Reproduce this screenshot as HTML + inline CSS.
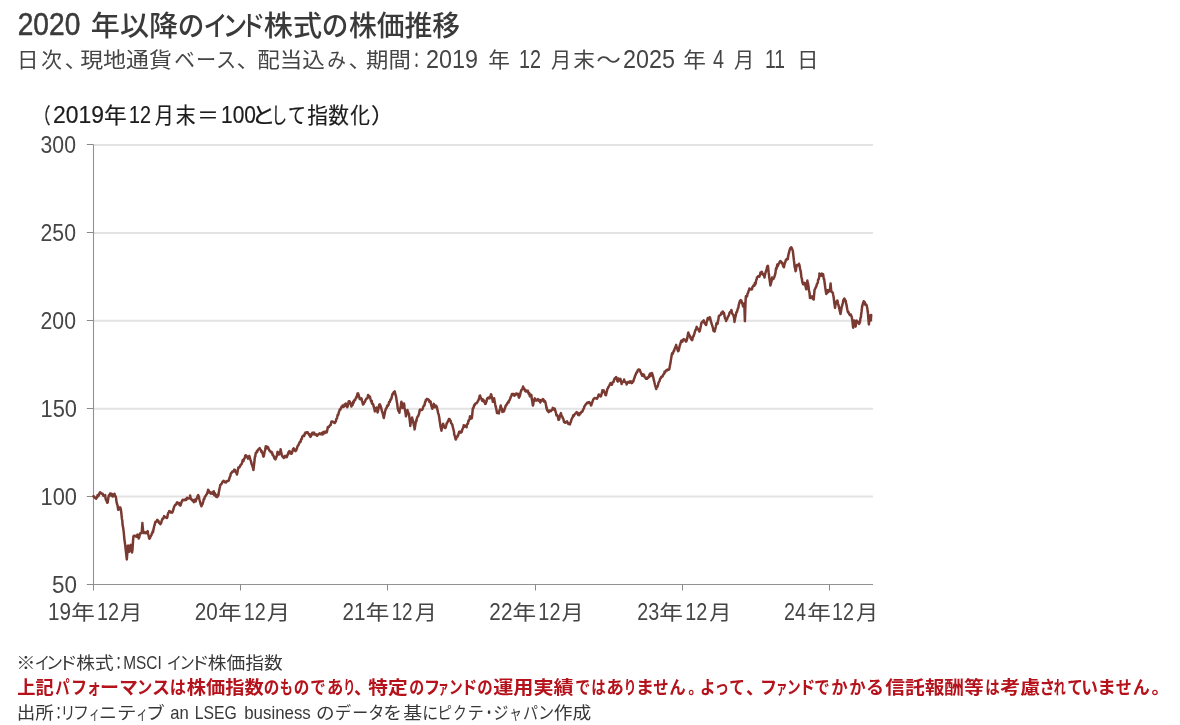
<!DOCTYPE html>
<html lang="ja"><head><meta charset="utf-8"><title>2020 年以降のインド株式の株価推移</title>
<style>
html,body{margin:0;padding:0;background:#fff;}
body{width:1180px;height:725px;position:relative;overflow:hidden;font-family:"Liberation Sans","Noto Sans CJK JP",sans-serif;}
svg{position:absolute;left:0;top:0;display:block;}
</style></head><body>
<svg width="1180" height="725" viewBox="0 0 1180 725">
<g fill="none">
<line x1="93.5" x2="873" y1="496.60" y2="496.60" stroke="#e3e3e3" stroke-width="2"/>
<line x1="93.5" x2="873" y1="408.70" y2="408.70" stroke="#e3e3e3" stroke-width="2"/>
<line x1="93.5" x2="873" y1="320.80" y2="320.80" stroke="#e3e3e3" stroke-width="2"/>
<line x1="93.5" x2="873" y1="232.90" y2="232.90" stroke="#e3e3e3" stroke-width="2"/>
<line x1="93.5" x2="873" y1="145.00" y2="145.00" stroke="#e3e3e3" stroke-width="2"/>
<line x1="93.5" x2="93.5" y1="144.5" y2="584.5" stroke="#929292" stroke-width="1.1"/>
<line x1="93.5" x2="873" y1="584.5" y2="584.5" stroke="#929292" stroke-width="1.1"/>
<line x1="86.8" x2="93.5" y1="584.50" y2="584.50" stroke="#8a8a8a" stroke-width="1"/>
<line x1="86.8" x2="93.5" y1="496.50" y2="496.50" stroke="#8a8a8a" stroke-width="1"/>
<line x1="86.8" x2="93.5" y1="408.50" y2="408.50" stroke="#8a8a8a" stroke-width="1"/>
<line x1="86.8" x2="93.5" y1="320.50" y2="320.50" stroke="#8a8a8a" stroke-width="1"/>
<line x1="86.8" x2="93.5" y1="232.50" y2="232.50" stroke="#8a8a8a" stroke-width="1"/>
<line x1="86.8" x2="93.5" y1="144.50" y2="144.50" stroke="#8a8a8a" stroke-width="1"/>
<line x1="93.50" x2="93.50" y1="584.5" y2="590.5" stroke="#8a8a8a" stroke-width="1"/>
<line x1="240.50" x2="240.50" y1="584.5" y2="590.5" stroke="#8a8a8a" stroke-width="1"/>
<line x1="387.50" x2="387.50" y1="584.5" y2="590.5" stroke="#8a8a8a" stroke-width="1"/>
<line x1="535.50" x2="535.50" y1="584.5" y2="590.5" stroke="#8a8a8a" stroke-width="1"/>
<line x1="682.50" x2="682.50" y1="584.5" y2="590.5" stroke="#8a8a8a" stroke-width="1"/>
<line x1="829.50" x2="829.50" y1="584.5" y2="590.5" stroke="#8a8a8a" stroke-width="1"/>
<path d="M93.4,496.3 L93.4,496.3 L94.0,496.5 L94.6,497.4 L95.3,498.2 L95.9,497.8 L96.2,498.7 L96.5,498.2 L97.1,497.2 L97.7,494.9 L98.4,496.0 L99.0,494.7 L99.6,492.8 L100.2,492.2 L100.3,492.2 L100.8,493.2 L101.5,493.2 L102.1,493.9 L102.7,493.7 L103.1,495.2 L103.3,495.7 L103.9,495.7 L104.6,496.2 L105.2,495.1 L105.2,496.3 L105.8,499.5 L106.4,500.4 L107.0,502.0 L107.2,502.8 L107.7,502.3 L108.3,498.0 L108.6,496.6 L108.9,495.2 L109.5,495.5 L110.1,493.5 L110.8,495.5 L111.4,493.8 L111.4,494.1 L112.0,494.3 L112.6,496.5 L112.8,495.9 L113.2,494.5 L113.9,495.9 L114.5,493.8 L114.8,495.2 L115.1,495.5 L115.7,496.6 L116.2,498.7 L116.3,500.5 L117.0,504.0 L117.6,505.7 L118.2,509.8 L118.3,509.7 L118.8,509.0 L119.4,508.9 L120.1,507.3 L120.3,507.6 L120.7,508.8 L121.3,512.8 L121.9,518.5 L122.4,521.4 L122.5,524.3 L123.2,528.0 L123.8,532.6 L124.4,539.6 L125.0,543.6 L125.2,544.9 L125.6,549.0 L126.3,554.7 L126.8,559.4 L126.9,558.3 L127.5,550.4 L127.9,545.6 L128.1,545.5 L128.7,549.7 L129.3,551.8 L129.4,551.4 L130.0,549.3 L130.6,545.1 L130.7,544.9 L131.2,546.3 L131.8,550.9 L132.1,552.4 L132.5,549.3 L133.1,540.2 L133.4,536.6 L133.7,535.9 L134.3,535.7 L134.9,535.8 L135.6,536.4 L136.2,535.7 L136.2,536.6 L136.8,536.8 L137.4,534.6 L137.6,534.5 L138.0,536.0 L138.6,537.7 L138.7,538.6 L139.3,537.0 L139.9,534.1 L140.3,533.2 L140.5,533.3 L141.1,533.3 L141.7,532.4 L141.8,531.6 L142.4,523.1 L142.4,524.2 L143.0,529.6 L143.4,532.4 L143.6,533.1 L144.2,533.0 L144.9,532.2 L145.5,532.9 L145.9,533.2 L146.1,532.5 L146.7,532.0 L147.3,532.5 L147.7,531.1 L148.0,533.5 L148.6,535.8 L149.2,538.6 L149.3,538.7 L149.8,538.3 L150.4,536.8 L151.1,535.7 L151.4,535.2 L151.7,533.9 L152.3,532.5 L152.8,531.1 L152.9,532.4 L153.5,529.3 L154.2,526.3 L154.8,524.1 L155.4,521.8 L155.5,522.1 L156.0,522.0 L156.6,521.6 L157.3,519.8 L157.6,520.7 L157.9,521.3 L158.5,521.0 L159.1,523.0 L159.7,522.6 L160.4,524.3 L161.0,523.1 L161.0,523.5 L161.6,521.2 L162.2,519.5 L162.4,518.7 L162.8,519.1 L163.5,518.1 L164.1,516.1 L164.5,516.6 L164.7,516.9 L165.3,517.2 L165.9,517.2 L166.6,517.5 L166.6,518.0 L167.2,517.8 L167.8,514.6 L168.4,512.7 L169.0,512.2 L169.3,511.1 L169.7,511.4 L170.3,511.5 L170.9,512.5 L171.5,512.6 L172.1,512.5 L172.1,512.7 L172.8,511.5 L173.4,509.4 L174.0,507.2 L174.6,505.8 L174.8,505.6 L175.2,504.8 L175.9,504.8 L176.5,503.4 L177.1,502.3 L177.6,503.2 L177.7,503.4 L178.3,502.9 L179.0,502.9 L179.6,505.2 L180.2,505.0 L180.3,505.6 L180.8,504.8 L181.4,502.5 L182.1,500.7 L182.4,500.7 L182.7,499.7 L183.3,500.2 L183.9,500.2 L184.5,499.7 L185.2,500.0 L185.8,499.0 L185.9,500.1 L186.4,499.7 L187.0,497.8 L187.6,498.5 L188.3,498.6 L188.9,498.4 L189.5,498.3 L190.0,496.6 L190.1,495.6 L190.7,498.3 L191.4,499.5 L192.0,500.2 L192.6,499.7 L192.8,500.7 L193.2,501.1 L193.8,502.2 L194.5,499.8 L195.1,501.3 L195.5,501.0 L195.7,501.4 L196.3,498.9 L196.9,498.6 L197.6,496.2 L198.2,495.1 L198.3,495.5 L198.8,496.6 L199.4,499.5 L200.0,501.5 L200.7,504.4 L201.3,505.2 L201.4,506.3 L201.9,504.9 L202.5,504.0 L203.1,502.1 L203.8,499.0 L204.4,498.8 L204.5,498.0 L205.0,496.6 L205.6,496.0 L206.2,494.7 L206.9,494.1 L207.5,492.0 L207.9,491.1 L208.1,489.8 L208.7,490.6 L209.3,492.5 L210.0,492.1 L210.6,493.6 L211.2,493.3 L211.4,493.2 L211.8,492.5 L212.4,493.6 L213.1,492.0 L213.4,492.5 L213.7,491.3 L214.3,495.2 L214.9,493.1 L215.5,495.8 L216.2,496.8 L216.8,497.1 L216.9,497.1 L217.4,495.1 L218.0,496.1 L218.6,494.5 L218.6,493.2 L219.3,489.8 L219.9,487.0 L220.3,484.9 L220.5,485.2 L221.1,484.1 L221.7,483.7 L222.4,482.0 L223.0,481.4 L223.1,481.4 L223.6,480.7 L224.2,481.4 L224.8,482.3 L225.5,481.8 L225.9,482.1 L226.1,482.4 L226.7,481.3 L227.3,480.9 L227.9,481.1 L228.6,480.6 L228.6,480.7 L229.2,479.2 L229.8,476.9 L230.4,476.0 L230.7,473.8 L231.0,473.3 L231.7,472.7 L232.3,471.5 L232.8,471.8 L232.9,471.7 L233.5,471.6 L234.1,469.8 L234.8,469.7 L234.8,469.7 L235.4,471.6 L236.0,472.3 L236.6,473.5 L236.9,474.5 L237.2,473.6 L237.9,469.8 L238.3,467.6 L238.5,467.7 L239.1,467.7 L239.7,467.0 L240.3,465.3 L241.0,464.5 L241.0,464.9 L241.6,464.0 L242.2,462.4 L242.8,459.9 L243.4,461.1 L243.8,459.4 L244.1,458.9 L244.7,458.2 L245.3,455.5 L245.9,455.2 L245.9,456.2 L246.5,455.9 L247.2,457.3 L247.8,457.4 L247.9,458.7 L248.4,457.6 L249.0,456.3 L249.3,455.9 L249.6,456.9 L250.3,459.4 L250.9,461.1 L251.4,462.8 L251.5,463.9 L252.1,465.0 L252.7,466.9 L253.4,469.8 L253.4,470.0 L254.0,465.2 L254.6,460.0 L254.8,457.3 L255.2,456.7 L255.8,452.9 L256.5,452.7 L256.9,451.1 L257.1,452.0 L257.7,450.3 L258.3,449.3 L258.9,449.3 L259.6,448.1 L259.7,448.3 L260.2,449.5 L260.8,449.8 L261.4,451.8 L261.7,451.1 L262.0,452.5 L262.7,453.5 L263.3,456.4 L263.5,456.6 L263.9,455.8 L264.5,452.3 L265.1,450.0 L265.8,446.2 L265.9,447.4 L266.4,448.4 L267.0,447.6 L267.6,446.8 L268.2,447.5 L268.6,449.0 L268.9,449.2 L269.5,450.7 L270.1,450.9 L270.7,451.8 L270.7,452.2 L271.3,451.8 L272.0,452.4 L272.6,454.9 L272.8,454.5 L273.2,455.6 L273.8,456.3 L274.4,458.4 L275.1,457.9 L275.5,459.4 L275.7,458.4 L276.3,457.3 L276.9,455.6 L277.5,452.0 L277.6,451.8 L278.2,454.1 L278.8,453.6 L279.0,454.5 L279.4,453.7 L280.0,451.8 L280.6,450.4 L280.6,449.3 L281.3,452.9 L281.9,455.5 L282.4,456.6 L282.5,456.5 L283.1,456.7 L283.7,458.0 L284.4,456.2 L285.0,456.1 L285.2,457.3 L285.6,456.5 L286.2,455.7 L286.8,457.2 L287.2,455.9 L287.5,455.5 L288.1,453.2 L288.7,452.0 L289.3,451.1 L289.3,453.3 L289.9,451.5 L290.6,452.1 L291.2,453.7 L291.4,453.8 L291.8,453.3 L292.4,451.5 L293.0,449.2 L293.4,449.0 L293.7,448.4 L294.3,450.3 L294.9,450.5 L295.5,451.1 L295.5,449.8 L296.1,450.5 L296.8,448.8 L297.4,446.6 L297.6,446.3 L298.0,445.5 L298.6,444.9 L299.2,443.2 L299.9,441.8 L300.3,442.1 L300.5,441.9 L301.1,439.2 L301.7,439.2 L302.3,436.5 L303.0,436.1 L303.1,435.9 L303.6,435.3 L304.2,436.1 L304.8,433.4 L305.2,433.8 L305.4,432.6 L306.1,432.9 L306.7,432.2 L307.3,432.3 L307.9,432.5 L307.9,432.8 L308.5,433.8 L309.2,435.2 L309.8,434.2 L310.0,435.0 L310.4,436.9 L311.0,436.2 L311.6,434.4 L312.3,432.7 L312.9,434.2 L313.4,434.1 L313.5,434.2 L314.1,432.6 L314.7,434.6 L315.4,434.6 L316.0,434.3 L316.6,435.6 L316.9,435.2 L317.2,435.8 L317.8,434.4 L318.5,434.6 L319.1,433.7 L319.7,433.3 L320.3,433.6 L320.3,433.7 L320.9,434.3 L321.6,433.7 L322.2,432.7 L322.4,434.5 L322.8,434.4 L323.4,432.0 L324.0,432.5 L324.5,431.8 L324.7,433.2 L325.3,432.0 L325.9,431.4 L326.5,431.4 L326.6,432.5 L327.1,431.1 L327.8,427.6 L327.9,427.0 L328.4,427.0 L329.0,426.9 L329.6,425.7 L330.2,425.0 L330.7,424.9 L330.9,423.9 L331.5,421.4 L332.1,421.6 L332.7,421.7 L332.8,421.6 L333.3,421.8 L334.0,422.7 L334.6,422.8 L334.8,423.0 L335.2,422.3 L335.8,421.4 L336.4,418.8 L336.9,418.5 L337.1,417.8 L337.7,414.8 L338.3,414.7 L338.9,412.0 L339.5,410.3 L339.7,409.4 L340.2,409.9 L340.8,408.7 L341.4,407.0 L341.7,406.6 L342.0,407.2 L342.6,405.5 L343.3,406.9 L343.8,406.6 L343.9,406.6 L344.5,404.5 L345.1,405.8 L345.7,403.5 L345.9,403.8 L346.4,405.6 L347.0,406.4 L347.2,407.3 L347.6,406.5 L348.2,404.3 L348.6,401.8 L348.8,401.3 L349.5,401.2 L350.1,402.7 L350.7,403.2 L350.7,403.8 L351.3,405.9 L351.4,406.6 L351.9,405.2 L352.6,405.0 L353.2,401.5 L353.4,403.2 L353.8,401.9 L354.4,400.1 L354.8,400.4 L355.0,400.2 L355.7,398.4 L356.3,397.1 L356.5,397.6 L356.9,396.2 L357.5,393.5 L358.0,393.2 L358.1,393.7 L358.8,395.3 L359.4,397.6 L359.7,399.0 L360.0,398.3 L360.6,399.3 L361.2,398.3 L361.4,398.3 L361.9,400.4 L362.5,402.6 L363.1,404.5 L363.1,403.9 L363.7,403.9 L364.3,402.6 L365.0,401.5 L365.6,399.9 L365.9,399.7 L366.2,398.8 L366.8,398.6 L367.4,398.4 L368.1,395.0 L368.3,395.2 L368.7,396.0 L369.3,396.0 L369.9,397.5 L370.0,397.0 L370.5,399.1 L371.2,401.6 L371.8,400.7 L372.1,403.8 L372.4,403.7 L373.0,404.0 L373.4,405.2 L373.6,406.2 L374.3,408.5 L374.8,411.4 L374.9,410.7 L375.5,410.2 L376.1,409.6 L376.2,408.0 L376.7,407.6 L377.4,411.5 L377.6,412.5 L378.0,411.0 L378.6,408.1 L379.2,405.0 L379.4,404.5 L379.8,404.3 L380.5,405.7 L381.1,408.1 L381.3,408.0 L381.7,410.4 L382.3,412.2 L382.9,414.0 L383.6,417.2 L383.8,418.1 L384.2,415.9 L384.8,413.2 L385.2,410.7 L385.4,410.3 L386.0,408.5 L386.7,407.9 L387.3,405.6 L387.9,405.2 L387.9,405.8 L388.5,404.9 L389.1,401.9 L389.8,401.9 L390.4,399.6 L390.7,399.7 L391.0,399.6 L391.6,397.7 L392.2,395.0 L392.8,393.5 L392.9,394.2 L393.5,392.6 L394.1,391.9 L394.7,391.4 L394.8,391.8 L395.3,393.9 L396.0,396.4 L396.2,397.6 L396.6,400.2 L397.2,403.7 L397.8,408.8 L397.9,408.7 L398.4,410.9 L399.1,411.5 L399.4,412.8 L399.7,410.2 L400.3,408.4 L400.9,405.3 L401.4,401.8 L401.5,402.3 L402.2,404.2 L402.8,408.1 L402.8,408.0 L403.4,407.6 L404.0,403.5 L404.2,404.5 L404.6,407.9 L405.3,411.6 L405.9,415.5 L405.9,416.3 L406.5,414.3 L407.1,410.6 L407.5,410.1 L407.7,410.9 L408.4,413.2 L408.9,413.5 L409.0,414.3 L409.6,419.0 L410.2,423.9 L410.3,425.9 L410.8,422.4 L411.5,419.2 L412.1,418.9 L412.1,417.6 L412.7,420.2 L413.3,422.6 L413.9,425.3 L414.6,428.4 L414.6,429.4 L415.2,425.9 L415.8,421.7 L416.2,420.4 L416.4,421.2 L417.0,417.9 L417.7,416.5 L418.3,415.9 L418.3,415.6 L418.9,414.3 L419.5,411.8 L419.7,410.1 L420.1,409.6 L420.8,410.0 L421.4,409.8 L422.0,409.9 L422.4,409.4 L422.6,409.2 L423.2,407.0 L423.9,405.5 L424.5,405.4 L424.5,405.2 L425.1,402.0 L425.7,401.4 L425.9,399.7 L426.3,399.7 L427.0,398.9 L427.6,399.5 L428.2,399.3 L428.6,399.7 L428.8,400.0 L429.4,401.8 L430.1,401.1 L430.7,401.8 L430.7,403.2 L431.3,405.5 L431.9,407.3 L432.3,408.7 L432.5,408.0 L433.2,406.0 L433.7,403.8 L433.8,403.9 L434.4,406.6 L434.8,407.3 L435.0,406.3 L435.6,406.1 L435.9,405.6 L436.3,405.9 L436.9,407.3 L437.5,410.3 L437.6,410.1 L438.1,413.3 L438.7,414.6 L439.4,418.5 L439.7,421.1 L440.0,422.9 L440.6,427.0 L441.2,429.2 L441.4,430.7 L441.8,428.8 L442.5,425.3 L443.1,425.8 L443.1,423.8 L443.7,425.4 L444.3,426.9 L444.9,428.0 L445.2,428.0 L445.6,427.6 L446.2,425.5 L446.6,423.8 L446.8,423.1 L447.4,422.6 L448.0,420.9 L448.7,420.5 L448.9,419.0 L449.3,418.9 L449.9,419.8 L450.5,421.4 L450.7,421.1 L451.1,423.2 L451.8,423.9 L452.4,424.8 L452.4,425.4 L453.0,427.8 L453.6,430.0 L454.1,432.4 L454.2,434.4 L454.9,436.2 L455.5,439.0 L455.8,439.4 L456.1,439.0 L456.7,436.9 L457.3,436.9 L457.6,435.4 L458.0,435.8 L458.6,433.6 L459.2,431.7 L459.2,431.7 L459.8,432.6 L460.4,431.6 L461.1,432.6 L461.7,431.6 L461.7,432.1 L462.3,429.4 L462.9,428.5 L463.5,426.3 L463.8,425.2 L464.2,426.9 L464.8,425.7 L465.4,426.4 L466.0,426.0 L466.6,427.3 L466.6,425.8 L467.3,423.9 L467.9,423.7 L468.5,420.5 L468.6,421.1 L469.1,420.2 L469.7,418.3 L470.0,416.3 L470.4,416.5 L471.0,418.6 L471.6,418.2 L471.8,418.3 L472.2,415.1 L472.8,408.7 L472.8,408.4 L473.5,408.0 L474.1,405.3 L474.7,405.2 L474.8,404.5 L475.3,403.7 L475.9,403.3 L476.6,403.3 L477.2,402.3 L477.6,401.8 L477.8,401.2 L478.4,400.3 L479.0,398.8 L479.7,395.7 L480.1,395.6 L480.3,396.5 L480.9,398.1 L481.5,398.6 L482.0,400.4 L482.1,400.7 L482.8,399.4 L483.4,401.5 L483.8,400.4 L484.0,400.6 L484.6,401.9 L485.2,404.0 L485.6,403.8 L485.9,402.9 L486.5,401.6 L487.1,398.5 L487.2,399.0 L487.7,398.4 L488.3,397.6 L489.0,398.3 L489.3,398.3 L489.6,398.4 L490.2,396.3 L490.8,395.3 L491.0,394.2 L491.4,395.3 L492.1,398.0 L492.7,400.9 L492.8,401.8 L493.3,400.9 L493.9,399.1 L494.1,398.3 L494.5,400.7 L495.2,404.5 L495.5,405.9 L495.8,406.9 L496.4,409.5 L497.0,413.0 L497.2,412.8 L497.6,412.2 L498.3,412.5 L498.9,413.4 L499.0,412.1 L499.5,410.4 L500.1,408.6 L500.7,405.4 L500.8,405.6 L501.4,409.3 L502.0,408.7 L502.4,412.1 L502.6,411.0 L503.2,410.3 L503.8,411.5 L504.5,409.7 L504.5,409.4 L505.1,407.8 L505.7,405.6 L506.3,405.4 L506.6,404.5 L506.9,404.2 L507.6,403.0 L508.2,401.8 L508.6,402.5 L508.8,401.1 L509.4,400.5 L510.0,399.0 L510.7,397.2 L510.7,397.0 L511.3,396.1 L511.9,394.1 L512.5,394.6 L512.8,394.2 L513.1,393.7 L513.8,395.0 L514.4,395.8 L514.6,395.6 L515.0,394.7 L515.6,393.7 L516.2,394.5 L516.5,393.5 L516.9,394.4 L517.5,394.6 L518.1,393.9 L518.7,397.1 L519.0,397.6 L519.3,397.0 L520.0,395.5 L520.6,392.2 L521.0,391.4 L521.2,390.5 L521.8,389.5 L522.4,389.2 L523.1,386.5 L523.1,387.3 L523.7,388.2 L524.3,388.6 L524.9,390.5 L525.5,390.1 L525.6,391.4 L526.2,391.5 L526.8,390.7 L527.4,390.7 L527.9,390.7 L528.0,391.4 L528.6,393.6 L529.3,393.1 L529.7,395.6 L529.9,396.3 L530.5,395.7 L531.1,394.8 L531.4,394.9 L531.7,398.5 L532.4,402.1 L532.8,405.2 L533.0,405.5 L533.6,402.0 L534.2,399.7 L534.8,398.3 L534.8,399.3 L535.5,400.5 L536.1,399.9 L536.7,400.6 L537.2,400.4 L537.3,400.0 L537.9,399.1 L538.6,399.7 L539.0,399.7 L539.2,401.2 L539.8,400.0 L540.3,402.5 L540.4,402.0 L541.0,400.1 L541.7,400.8 L542.3,400.5 L542.4,399.7 L542.9,399.0 L543.5,400.0 L544.1,401.7 L544.8,401.0 L544.9,401.1 L545.4,402.3 L546.0,405.0 L546.6,408.7 L546.6,407.2 L547.2,410.4 L547.9,410.3 L548.2,411.4 L548.5,412.1 L549.1,411.8 L549.7,410.5 L550.3,410.4 L550.7,410.7 L551.0,411.1 L551.6,410.2 L552.2,409.8 L552.8,407.9 L553.4,408.7 L553.4,409.4 L554.1,408.9 L554.7,408.6 L555.3,410.7 L555.5,411.4 L555.9,412.7 L556.5,415.4 L557.2,415.0 L557.3,415.6 L557.8,415.8 L558.4,419.8 L559.0,419.7 L559.0,419.8 L559.6,417.5 L560.3,415.0 L560.9,413.1 L561.0,413.5 L561.5,415.9 L562.1,416.3 L562.7,417.7 L562.8,418.3 L563.4,419.1 L564.0,422.0 L564.6,421.6 L564.8,422.5 L565.2,422.8 L565.8,422.4 L566.5,422.2 L567.1,421.2 L567.2,421.8 L567.7,422.8 L568.3,424.0 L568.9,423.4 L569.6,423.3 L570.0,424.4 L570.2,422.9 L570.8,422.1 L571.4,419.8 L571.9,418.5 L572.0,418.2 L572.7,417.3 L573.3,415.2 L573.9,415.9 L574.1,415.0 L574.5,414.7 L575.1,413.7 L575.8,413.2 L576.4,413.0 L576.6,412.1 L577.0,412.6 L577.6,412.7 L578.2,414.9 L578.9,414.5 L579.2,415.2 L579.5,414.3 L580.1,413.0 L580.7,413.4 L581.3,411.9 L582.0,411.6 L582.1,411.8 L582.6,411.0 L583.2,409.3 L583.8,408.6 L584.4,406.7 L584.5,406.3 L585.1,405.3 L585.7,404.5 L586.3,403.6 L586.9,403.6 L587.2,402.8 L587.5,402.7 L588.2,402.2 L588.8,402.9 L589.3,402.1 L589.4,402.4 L590.0,403.2 L590.6,403.7 L591.0,405.6 L591.3,405.2 L591.9,403.4 L592.5,401.6 L592.8,400.7 L593.1,399.9 L593.7,398.8 L594.4,398.4 L594.8,398.0 L595.0,398.2 L595.6,398.2 L596.2,398.4 L596.8,398.3 L596.9,398.7 L597.5,397.8 L598.1,396.5 L598.7,394.5 L599.0,394.5 L599.3,395.4 L599.9,395.9 L600.6,396.5 L601.0,396.3 L601.2,395.5 L601.8,393.2 L602.4,391.1 L602.4,390.2 L603.0,392.1 L603.7,390.3 L604.3,392.1 L604.5,392.5 L604.9,393.0 L605.5,395.1 L605.9,395.2 L606.1,394.4 L606.8,391.5 L607.4,389.0 L607.9,388.3 L608.0,387.6 L608.6,386.9 L609.2,385.7 L609.9,384.2 L610.3,383.5 L610.5,383.1 L611.1,383.7 L611.7,384.8 L612.1,384.2 L612.3,382.8 L613.0,382.2 L613.6,381.9 L614.1,379.4 L614.2,379.7 L614.8,378.2 L615.4,378.3 L615.9,377.3 L616.1,377.0 L616.7,378.7 L617.3,380.9 L617.6,380.3 L617.9,381.6 L618.5,378.6 L619.2,380.1 L619.8,380.7 L620.3,379.0 L620.4,378.9 L621.0,381.3 L621.6,384.1 L621.7,383.1 L622.3,382.1 L622.9,382.1 L623.5,381.0 L623.8,380.7 L624.1,379.5 L624.7,381.7 L625.4,381.7 L626.0,383.0 L626.6,382.8 L626.6,384.4 L627.2,383.1 L627.8,382.0 L628.5,382.4 L629.1,381.9 L629.3,381.7 L629.7,382.7 L630.3,381.3 L630.9,381.9 L631.4,383.1 L631.6,381.4 L632.2,382.9 L632.8,381.9 L633.4,381.4 L633.4,380.9 L634.0,379.0 L634.7,377.3 L635.3,375.2 L635.5,375.2 L635.9,374.0 L636.5,372.5 L637.1,372.5 L637.6,370.4 L637.8,370.6 L638.4,369.5 L639.0,369.5 L639.6,370.6 L639.7,369.7 L640.2,371.3 L640.9,372.6 L641.5,374.3 L641.7,374.3 L642.1,375.8 L642.7,374.2 L643.3,375.0 L643.8,375.9 L644.0,374.8 L644.6,377.3 L645.2,377.5 L645.8,378.1 L645.9,378.7 L646.4,377.9 L647.1,378.8 L647.7,378.0 L647.9,378.0 L648.3,376.9 L648.9,377.2 L649.5,374.5 L650.0,374.5 L650.2,373.5 L650.8,376.0 L651.4,373.5 L652.0,373.0 L652.1,373.4 L652.6,374.8 L653.3,377.5 L653.9,380.5 L654.1,380.7 L654.5,382.8 L655.1,385.1 L655.7,387.0 L656.2,389.0 L656.4,387.5 L657.0,387.2 L657.6,386.5 L658.2,384.5 L658.3,383.5 L658.8,382.1 L659.5,381.3 L660.1,378.9 L660.3,378.7 L660.7,378.3 L661.3,376.8 L661.9,376.8 L662.4,376.6 L662.6,376.3 L663.2,374.7 L663.8,374.0 L664.4,373.4 L664.5,371.8 L665.0,372.5 L665.7,371.0 L666.3,370.3 L666.9,370.1 L667.2,370.4 L667.5,369.5 L668.1,369.8 L668.8,369.7 L669.3,369.0 L669.4,368.7 L670.0,365.3 L670.6,362.0 L670.7,361.4 L671.2,358.1 L671.9,354.0 L672.1,353.2 L672.5,354.1 L673.1,352.9 L673.7,350.8 L674.1,351.1 L674.3,349.7 L675.0,348.1 L675.6,346.8 L676.2,344.9 L676.2,345.8 L676.8,347.5 L677.4,349.4 L678.1,351.2 L678.3,351.1 L678.7,350.4 L679.3,347.7 L679.7,345.6 L679.9,345.4 L680.5,343.5 L681.2,340.7 L681.7,340.7 L681.8,340.6 L682.4,341.7 L683.0,339.7 L683.6,339.3 L684.3,340.3 L684.5,339.4 L684.9,339.7 L685.5,339.7 L686.1,341.6 L686.6,340.7 L686.7,340.5 L687.4,337.6 L688.0,333.6 L688.3,332.5 L688.6,333.5 L689.2,334.7 L689.8,336.3 L690.0,336.1 L690.5,337.9 L691.1,339.1 L691.7,339.5 L692.1,340.2 L692.3,340.0 L692.9,336.8 L693.6,336.2 L693.8,335.0 L694.2,334.5 L694.8,332.0 L695.4,330.0 L695.5,330.4 L696.0,329.2 L696.7,326.9 L696.9,327.3 L697.3,328.2 L697.9,329.2 L698.5,329.2 L699.1,331.0 L699.4,331.4 L699.8,330.6 L700.4,328.0 L701.0,325.3 L701.3,323.2 L701.6,322.7 L702.2,321.9 L702.9,321.2 L703.5,321.2 L703.8,320.4 L704.1,322.7 L704.7,323.0 L705.3,324.1 L706.0,325.0 L706.3,324.5 L706.6,322.1 L707.2,320.4 L707.7,318.3 L707.8,317.9 L708.4,319.0 L709.1,319.2 L709.7,317.2 L710.0,317.6 L710.3,318.8 L710.9,321.5 L711.5,323.1 L711.8,324.5 L712.2,325.3 L712.8,327.4 L713.4,330.1 L713.4,330.8 L714.0,329.7 L714.6,331.5 L714.8,330.7 L715.3,328.7 L715.9,326.5 L716.5,323.2 L716.5,324.4 L717.1,323.0 L717.6,323.8 L717.7,322.3 L718.4,319.4 L718.7,317.0 L719.0,315.9 L719.6,315.5 L720.2,315.2 L720.6,314.9 L720.8,314.6 L721.5,312.6 L722.1,312.3 L722.7,312.0 L722.8,311.4 L723.3,313.7 L723.9,312.7 L724.5,315.6 L724.6,316.8 L725.2,318.6 L725.8,319.3 L726.1,321.1 L726.4,319.3 L727.0,319.3 L727.7,317.2 L727.9,317.0 L728.3,316.2 L728.9,315.3 L729.5,312.9 L730.0,312.1 L730.1,312.0 L730.8,311.4 L731.4,310.8 L731.4,310.1 L732.0,312.9 L732.6,314.3 L733.2,314.7 L733.4,314.9 L733.9,317.3 L734.4,320.4 L734.5,321.9 L735.1,318.2 L735.7,315.7 L736.2,313.5 L736.3,312.3 L737.0,312.1 L737.6,309.3 L738.2,307.9 L738.3,308.0 L738.8,304.8 L739.4,302.7 L739.9,301.1 L740.1,301.1 L740.7,300.0 L741.3,301.1 L741.3,300.4 L741.9,302.9 L742.5,303.9 L743.1,306.6 L743.2,305.5 L743.8,303.9 L744.2,303.2 L744.4,307.3 L744.9,321.1 L745.0,317.7 L745.4,305.2 L745.6,300.2 L745.9,296.3 L746.3,296.7 L746.9,296.5 L747.2,295.6 L747.5,293.8 L748.1,292.9 L748.7,290.7 L749.3,289.4 L749.4,288.5 L750.0,289.0 L750.6,288.9 L751.2,289.5 L751.8,289.5 L752.1,288.7 L752.5,287.1 L753.1,286.3 L753.7,285.2 L753.7,285.6 L754.3,285.8 L754.9,282.8 L755.1,284.5 L755.6,283.7 L756.2,280.2 L756.8,279.1 L756.9,277.6 L757.4,277.0 L758.0,276.3 L758.7,276.5 L759.0,276.3 L759.3,276.8 L759.9,275.2 L760.5,272.6 L761.1,274.0 L761.7,272.8 L761.8,271.7 L762.4,273.1 L763.0,273.9 L763.1,274.9 L763.6,274.5 L764.2,276.2 L764.5,277.6 L764.9,275.3 L765.5,272.8 L765.9,271.4 L766.1,270.8 L766.7,268.9 L767.3,266.3 L767.9,265.9 L768.0,266.3 L768.6,272.2 L769.0,274.9 L769.2,277.1 L769.8,281.0 L770.4,285.2 L770.4,285.5 L771.1,282.9 L771.7,280.5 L772.1,277.6 L772.3,279.1 L772.9,278.2 L773.4,279.0 L773.5,278.3 L774.2,277.5 L774.8,275.4 L775.4,273.3 L776.0,268.3 L776.2,269.4 L776.6,268.2 L777.3,264.5 L777.9,266.0 L778.3,264.5 L778.5,264.2 L779.1,263.1 L779.7,261.9 L780.3,261.1 L780.4,262.1 L781.0,261.4 L781.6,262.9 L782.1,262.5 L782.2,263.3 L782.8,264.9 L783.5,266.7 L783.8,267.3 L784.1,266.4 L784.7,263.2 L785.3,262.3 L785.9,259.7 L785.9,260.2 L786.6,259.1 L787.2,259.4 L787.8,259.0 L787.9,258.3 L788.4,254.8 L789.0,252.7 L789.6,250.1 L789.7,249.7 L790.3,248.2 L790.9,247.9 L791.1,247.3 L791.5,247.5 L792.1,249.1 L792.8,250.8 L792.8,250.7 L793.4,255.8 L794.0,261.0 L794.2,262.4 L794.6,266.7 L795.2,268.6 L795.6,271.2 L795.9,270.1 L796.5,266.1 L796.9,265.0 L797.1,265.3 L797.7,265.5 L798.3,265.3 L799.0,263.7 L799.1,264.1 L799.6,265.9 L800.2,269.7 L800.6,270.5 L800.8,272.0 L801.4,277.0 L802.1,279.9 L802.1,280.9 L802.7,283.3 L803.3,284.4 L803.6,284.3 L803.9,284.3 L804.5,282.8 L804.8,283.1 L805.2,284.5 L805.8,287.5 L806.2,289.2 L806.4,288.0 L807.0,283.2 L807.4,280.6 L807.6,281.7 L808.3,285.1 L808.5,286.2 L808.9,290.3 L809.5,292.6 L810.0,298.1 L810.1,297.0 L810.7,296.7 L811.4,297.2 L812.0,296.2 L812.0,297.5 L812.6,298.6 L813.2,299.0 L813.7,299.5 L813.8,297.8 L814.5,290.6 L814.6,289.6 L815.1,288.8 L815.7,287.6 L816.3,286.5 L816.4,286.1 L816.9,284.0 L817.6,283.2 L817.9,281.7 L818.2,279.5 L818.8,279.1 L819.4,275.8 L819.4,273.5 L820.0,275.1 L820.7,274.4 L820.8,275.3 L821.3,275.6 L821.9,273.6 L822.5,275.7 L822.8,274.2 L823.1,274.3 L823.8,279.1 L824.2,279.2 L824.4,281.0 L825.0,285.6 L825.3,288.0 L825.6,289.8 L826.2,293.9 L826.4,293.0 L826.9,293.2 L827.5,290.2 L828.1,292.2 L828.6,290.8 L828.7,291.0 L829.3,289.9 L829.7,291.3 L830.0,289.8 L830.6,283.4 L830.6,284.1 L831.2,290.4 L831.3,291.3 L831.8,292.1 L832.4,292.3 L833.0,293.5 L833.1,294.4 L833.7,297.5 L834.1,301.2 L834.3,302.8 L834.9,306.9 L835.0,307.9 L835.5,304.8 L836.1,301.8 L836.2,303.2 L836.8,301.6 L837.4,301.2 L837.4,300.4 L838.0,303.6 L838.6,305.5 L839.1,307.9 L839.3,308.6 L839.9,311.4 L840.5,313.9 L840.5,314.0 L841.1,310.6 L841.7,306.7 L841.8,306.8 L842.4,304.7 L843.0,302.5 L843.1,301.2 L843.6,299.7 L844.2,298.8 L844.4,298.5 L844.8,299.3 L845.5,301.2 L845.7,300.7 L846.1,303.6 L846.7,305.7 L846.8,306.8 L847.3,309.5 L847.9,312.3 L847.9,311.2 L848.6,312.4 L849.2,314.0 L849.6,314.5 L849.8,315.0 L850.4,315.2 L850.7,314.5 L851.0,315.4 L851.7,316.8 L852.3,320.2 L852.3,320.0 L852.9,325.6 L853.1,327.7 L853.5,325.3 L854.1,321.1 L854.2,320.6 L854.8,323.5 L855.4,326.1 L855.6,326.6 L856.0,324.2 L856.4,320.6 L856.6,320.5 L857.2,322.3 L857.9,321.8 L858.4,322.8 L858.5,322.8 L859.1,323.9 L859.7,322.6 L860.0,322.2 L860.3,318.9 L861.0,316.6 L861.1,314.5 L861.6,311.4 L862.2,305.7 L862.2,306.6 L862.8,304.0 L863.4,302.2 L863.7,301.2 L864.1,301.6 L864.7,302.2 L865.2,303.5 L865.3,304.8 L865.9,304.3 L866.5,305.1 L866.7,305.7 L867.2,307.7 L867.8,312.5 L867.8,311.2 L868.4,319.1 L868.9,324.4 L869.0,323.2 L869.6,318.4 L870.0,315.6 L870.3,317.8 L870.7,320.6 L870.9,319.2 L871.2,315.0" stroke="#7b3a31" stroke-width="2.5" stroke-linejoin="round" stroke-linecap="round"/>
</g>
<text font-family="Liberation Sans, Noto Sans CJK JP, sans-serif" fill="#3a3a3a" font-weight="500"><tspan x="17.74" y="35.30" font-size="32" textLength="62.54" lengthAdjust="spacingAndGlyphs" font-family="Liberation Sans, sans-serif" stroke="#3a3a3a" stroke-width="0.55">2020</tspan><tspan font-size="4"> </tspan><tspan x="90.88" y="36.00" font-size="28" textLength="87.24" lengthAdjust="spacingAndGlyphs">年以降</tspan><tspan x="177.67" y="36.00" font-size="28" textLength="26.66" lengthAdjust="spacingAndGlyphs">の</tspan><tspan x="203.56" y="36.00" font-size="28" textLength="23.96" lengthAdjust="spacingAndGlyphs">イ</tspan><tspan x="222.53" y="36.00" font-size="28" textLength="24.71" lengthAdjust="spacingAndGlyphs">ン</tspan><tspan x="240.71" y="36.00" font-size="28" textLength="24.48" lengthAdjust="spacingAndGlyphs">ド</tspan><tspan x="263.88" y="36.00" font-size="28" textLength="58.24" lengthAdjust="spacingAndGlyphs">株式</tspan><tspan x="321.67" y="36.00" font-size="28" textLength="26.66" lengthAdjust="spacingAndGlyphs">の</tspan><tspan x="348.88" y="36.00" font-size="28" textLength="111.24" lengthAdjust="spacingAndGlyphs">株価推移</tspan></text>
<text font-family="Liberation Sans, Noto Sans CJK JP, sans-serif" fill="#454545"><tspan x="17.11" y="67.20" font-size="21" textLength="21.49" lengthAdjust="spacingAndGlyphs">日</tspan><tspan x="41.16" y="67.20" font-size="21" textLength="20.68" lengthAdjust="spacingAndGlyphs">次</tspan><tspan x="64.48" y="67.20" font-size="21" textLength="23.04" lengthAdjust="spacingAndGlyphs">、</tspan><tspan x="80.16" y="67.20" font-size="21" textLength="91.68" lengthAdjust="spacingAndGlyphs">現地通貨</tspan><tspan x="174.16" y="67.20" font-size="21" textLength="20.68" lengthAdjust="spacingAndGlyphs">ベ</tspan><tspan x="195.90" y="67.20" font-size="21" textLength="20.21" lengthAdjust="spacingAndGlyphs">ー</tspan><tspan x="215.90" y="67.20" font-size="21" textLength="20.21" lengthAdjust="spacingAndGlyphs">ス</tspan><tspan x="236.48" y="67.20" font-size="21" textLength="23.04" lengthAdjust="spacingAndGlyphs">、</tspan><tspan x="257.16" y="67.20" font-size="21" textLength="67.68" lengthAdjust="spacingAndGlyphs">配当込</tspan><tspan x="327.16" y="67.20" font-size="21" textLength="18.68" lengthAdjust="spacingAndGlyphs">み</tspan><tspan x="348.48" y="67.20" font-size="21" textLength="23.04" lengthAdjust="spacingAndGlyphs">、</tspan><tspan x="366.14" y="67.20" font-size="21" textLength="44.75" lengthAdjust="spacingAndGlyphs">期間</tspan><tspan x="409.48" y="67.20" font-size="21" textLength="14.04" lengthAdjust="spacingAndGlyphs">：</tspan><tspan x="426.00" y="68.00" font-size="25" textLength="52.00" lengthAdjust="spacingAndGlyphs" font-family="Liberation Sans, sans-serif">2019</tspan><tspan font-size="4"> </tspan><tspan x="488.16" y="67.20" font-size="21" textLength="21.68" lengthAdjust="spacingAndGlyphs">年</tspan><tspan font-size="4"> </tspan><tspan x="519.00" y="68.00" font-size="25" textLength="22.00" lengthAdjust="spacingAndGlyphs" font-family="Liberation Sans, sans-serif">12</tspan><tspan font-size="4"> </tspan><tspan x="551.04" y="67.20" font-size="21" textLength="20.21" lengthAdjust="spacingAndGlyphs">月</tspan><tspan x="573.16" y="67.20" font-size="21" textLength="21.68" lengthAdjust="spacingAndGlyphs">末</tspan><tspan x="596.16" y="67.20" font-size="21" textLength="24.68" lengthAdjust="spacingAndGlyphs">～</tspan><tspan x="623.00" y="68.00" font-size="25" textLength="52.00" lengthAdjust="spacingAndGlyphs" font-family="Liberation Sans, sans-serif">2025</tspan><tspan font-size="4"> </tspan><tspan x="683.16" y="67.20" font-size="21" textLength="22.68" lengthAdjust="spacingAndGlyphs">年</tspan><tspan font-size="4"> </tspan><tspan x="713.00" y="68.00" font-size="25" textLength="11.00" lengthAdjust="spacingAndGlyphs" font-family="Liberation Sans, sans-serif">4</tspan><tspan font-size="4"> </tspan><tspan x="734.04" y="67.20" font-size="21" textLength="20.21" lengthAdjust="spacingAndGlyphs">月</tspan><tspan font-size="4"> </tspan><tspan x="765.00" y="68.00" font-size="25" textLength="20.00" lengthAdjust="spacingAndGlyphs" font-family="Liberation Sans, sans-serif">11</tspan><tspan font-size="4"> </tspan><tspan x="797.11" y="67.20" font-size="21" textLength="21.49" lengthAdjust="spacingAndGlyphs">日</tspan></text>
<text font-family="Liberation Sans, Noto Sans CJK JP, sans-serif" fill="#1c1c1c"><tspan x="33.85" y="123.00" font-size="21.5" textLength="16.80" lengthAdjust="spacingAndGlyphs" stroke="#1c1c1c" stroke-width="0.2">（</tspan><tspan x="53.04" y="123.00" font-size="24" textLength="50.92" lengthAdjust="spacingAndGlyphs" font-family="Liberation Sans, sans-serif" stroke="#1c1c1c" stroke-width="0.2">2019</tspan><tspan x="104.14" y="123.00" font-size="21.5" textLength="22.72" lengthAdjust="spacingAndGlyphs" stroke="#1c1c1c" stroke-width="0.2">年</tspan><tspan x="129.04" y="123.00" font-size="24" textLength="21.92" lengthAdjust="spacingAndGlyphs" font-family="Liberation Sans, sans-serif" stroke="#1c1c1c" stroke-width="0.2">12</tspan><tspan x="155.05" y="123.00" font-size="21.5" textLength="18.49" lengthAdjust="spacingAndGlyphs" stroke="#1c1c1c" stroke-width="0.2">月</tspan><tspan x="175.63" y="123.00" font-size="21.5" textLength="19.74" lengthAdjust="spacingAndGlyphs" stroke="#1c1c1c" stroke-width="0.2">末</tspan><tspan x="197.23" y="123.00" font-size="21.5" textLength="21.54" lengthAdjust="spacingAndGlyphs" stroke="#1c1c1c" stroke-width="0.2">＝</tspan><tspan x="221.04" y="123.00" font-size="24" textLength="34.92" lengthAdjust="spacingAndGlyphs" font-family="Liberation Sans, sans-serif" stroke="#1c1c1c" stroke-width="0.2">100</tspan><tspan x="250.93" y="123.00" font-size="21.5" textLength="24.81" lengthAdjust="spacingAndGlyphs" stroke="#1c1c1c" stroke-width="0.2">と</tspan><tspan x="271.50" y="123.00" font-size="21.5" textLength="15.55" lengthAdjust="spacingAndGlyphs" stroke="#1c1c1c" stroke-width="0.2">し</tspan><tspan x="288.08" y="123.00" font-size="21.5" textLength="17.91" lengthAdjust="spacingAndGlyphs" stroke="#1c1c1c" stroke-width="0.2">て</tspan><tspan x="307.14" y="123.00" font-size="21.5" textLength="20.72" lengthAdjust="spacingAndGlyphs" stroke="#1c1c1c" stroke-width="0.2">指</tspan><tspan x="328.13" y="123.00" font-size="21.5" textLength="20.69" lengthAdjust="spacingAndGlyphs" stroke="#1c1c1c" stroke-width="0.2">数</tspan><tspan x="350.18" y="123.00" font-size="21.5" textLength="19.68" lengthAdjust="spacingAndGlyphs" stroke="#1c1c1c" stroke-width="0.2">化</tspan><tspan x="370.92" y="123.00" font-size="21.5" textLength="23.16" lengthAdjust="spacingAndGlyphs" stroke="#1c1c1c" stroke-width="0.2">）</tspan></text>
<text font-family="Liberation Sans, Noto Sans CJK JP, sans-serif" fill="#454545"><tspan x="52.03" y="592.80" font-size="24" textLength="24.96" lengthAdjust="spacingAndGlyphs" font-family="Liberation Sans, sans-serif">50</tspan></text>
<text font-family="Liberation Sans, Noto Sans CJK JP, sans-serif" fill="#454545"><tspan x="40.53" y="504.90" font-size="24" textLength="36.44" lengthAdjust="spacingAndGlyphs" font-family="Liberation Sans, sans-serif">100</tspan></text>
<text font-family="Liberation Sans, Noto Sans CJK JP, sans-serif" fill="#454545"><tspan x="40.53" y="417.00" font-size="24" textLength="36.44" lengthAdjust="spacingAndGlyphs" font-family="Liberation Sans, sans-serif">150</tspan></text>
<text font-family="Liberation Sans, Noto Sans CJK JP, sans-serif" fill="#454545"><tspan x="40.54" y="329.10" font-size="24" textLength="35.40" lengthAdjust="spacingAndGlyphs" font-family="Liberation Sans, sans-serif">200</tspan></text>
<text font-family="Liberation Sans, Noto Sans CJK JP, sans-serif" fill="#454545"><tspan x="40.54" y="241.20" font-size="24" textLength="35.40" lengthAdjust="spacingAndGlyphs" font-family="Liberation Sans, sans-serif">250</tspan></text>
<text font-family="Liberation Sans, Noto Sans CJK JP, sans-serif" fill="#454545"><tspan x="40.54" y="153.30" font-size="24" textLength="35.40" lengthAdjust="spacingAndGlyphs" font-family="Liberation Sans, sans-serif">300</tspan></text>
<text font-family="Liberation Sans, Noto Sans CJK JP, sans-serif" fill="#454545"><tspan x="48.02" y="620.00" font-size="24.5" textLength="22.96" lengthAdjust="spacingAndGlyphs" font-family="Liberation Sans, sans-serif">19</tspan><tspan x="71.18" y="620.00" font-size="20.5" textLength="23.64" lengthAdjust="spacingAndGlyphs">年</tspan><tspan x="97.01" y="620.00" font-size="24.5" textLength="22.00" lengthAdjust="spacingAndGlyphs" font-family="Liberation Sans, sans-serif">12</tspan><tspan x="120.00" y="620.00" font-size="20.5" textLength="22.33" lengthAdjust="spacingAndGlyphs">月</tspan></text>
<text font-family="Liberation Sans, Noto Sans CJK JP, sans-serif" fill="#454545"><tspan x="194.79" y="620.00" font-size="24.5" textLength="23.01" lengthAdjust="spacingAndGlyphs" font-family="Liberation Sans, sans-serif">20</tspan><tspan x="217.98" y="620.00" font-size="20.5" textLength="23.64" lengthAdjust="spacingAndGlyphs">年</tspan><tspan x="243.79" y="620.00" font-size="24.5" textLength="22.00" lengthAdjust="spacingAndGlyphs" font-family="Liberation Sans, sans-serif">12</tspan><tspan x="266.81" y="620.00" font-size="20.5" textLength="23.39" lengthAdjust="spacingAndGlyphs">月</tspan></text>
<text font-family="Liberation Sans, Noto Sans CJK JP, sans-serif" fill="#454545"><tspan x="342.62" y="620.00" font-size="24.5" textLength="22.96" lengthAdjust="spacingAndGlyphs" font-family="Liberation Sans, sans-serif">21</tspan><tspan x="365.78" y="620.00" font-size="20.5" textLength="23.64" lengthAdjust="spacingAndGlyphs">年</tspan><tspan x="391.65" y="620.00" font-size="24.5" textLength="20.95" lengthAdjust="spacingAndGlyphs" font-family="Liberation Sans, sans-serif">12</tspan><tspan x="414.69" y="620.00" font-size="20.5" textLength="22.09" lengthAdjust="spacingAndGlyphs">月</tspan></text>
<text font-family="Liberation Sans, Noto Sans CJK JP, sans-serif" fill="#454545"><tspan x="489.37" y="620.00" font-size="24.5" textLength="23.06" lengthAdjust="spacingAndGlyphs" font-family="Liberation Sans, sans-serif">22</tspan><tspan x="512.58" y="620.00" font-size="20.5" textLength="23.64" lengthAdjust="spacingAndGlyphs">年</tspan><tspan x="538.37" y="620.00" font-size="24.5" textLength="22.06" lengthAdjust="spacingAndGlyphs" font-family="Liberation Sans, sans-serif">12</tspan><tspan x="561.49" y="620.00" font-size="20.5" textLength="22.16" lengthAdjust="spacingAndGlyphs">月</tspan></text>
<text font-family="Liberation Sans, Noto Sans CJK JP, sans-serif" fill="#454545"><tspan x="637.24" y="620.00" font-size="24.5" textLength="21.92" lengthAdjust="spacingAndGlyphs" font-family="Liberation Sans, sans-serif">23</tspan><tspan x="659.38" y="620.00" font-size="20.5" textLength="23.64" lengthAdjust="spacingAndGlyphs">年</tspan><tspan x="685.19" y="620.00" font-size="24.5" textLength="22.00" lengthAdjust="spacingAndGlyphs" font-family="Liberation Sans, sans-serif">12</tspan><tspan x="709.31" y="620.00" font-size="20.5" textLength="22.16" lengthAdjust="spacingAndGlyphs">月</tspan></text>
<text font-family="Liberation Sans, Noto Sans CJK JP, sans-serif" fill="#454545"><tspan x="784.04" y="620.00" font-size="24.5" textLength="21.92" lengthAdjust="spacingAndGlyphs" font-family="Liberation Sans, sans-serif">24</tspan><tspan x="807.18" y="620.00" font-size="20.5" textLength="23.64" lengthAdjust="spacingAndGlyphs">年</tspan><tspan x="832.00" y="620.00" font-size="24.5" textLength="22.00" lengthAdjust="spacingAndGlyphs" font-family="Liberation Sans, sans-serif">12</tspan><tspan x="856.12" y="620.00" font-size="20.5" textLength="22.16" lengthAdjust="spacingAndGlyphs">月</tspan></text>
<text font-family="Liberation Sans, Noto Sans CJK JP, sans-serif" fill="#383838"><tspan x="16.35" y="668.80" font-size="17.5" textLength="19.30" lengthAdjust="spacingAndGlyphs">※</tspan><tspan x="34.65" y="668.80" font-size="17.5" textLength="15.21" lengthAdjust="spacingAndGlyphs">イ</tspan><tspan x="45.92" y="668.80" font-size="17.5" textLength="16.90" lengthAdjust="spacingAndGlyphs">ン</tspan><tspan x="58.19" y="668.80" font-size="17.5" textLength="19.49" lengthAdjust="spacingAndGlyphs">ド</tspan><tspan x="76.30" y="668.80" font-size="17.5" textLength="37.40" lengthAdjust="spacingAndGlyphs">株式</tspan><tspan x="111.90" y="668.80" font-size="17.5" textLength="13.20" lengthAdjust="spacingAndGlyphs">：</tspan><tspan x="123.26" y="668.80" font-size="18.5" textLength="38.48" lengthAdjust="spacingAndGlyphs" font-family="Liberation Sans, sans-serif">MSCI</tspan><tspan font-size="4"> </tspan><tspan x="166.65" y="668.80" font-size="17.5" textLength="15.21" lengthAdjust="spacingAndGlyphs">イ</tspan><tspan x="179.55" y="668.80" font-size="17.5" textLength="15.21" lengthAdjust="spacingAndGlyphs">ン</tspan><tspan x="190.19" y="668.80" font-size="17.5" textLength="19.49" lengthAdjust="spacingAndGlyphs">ド</tspan><tspan x="207.79" y="668.80" font-size="17.5" textLength="74.91" lengthAdjust="spacingAndGlyphs">株価指数</tspan></text>
<text font-family="Liberation Sans, Noto Sans CJK JP, sans-serif" fill="#b5121b" font-weight="700"><tspan x="17.28" y="693.80" font-size="18" textLength="36.44" lengthAdjust="spacingAndGlyphs">上記</tspan><tspan x="55.33" y="693.80" font-size="18.0" textLength="14.41" lengthAdjust="spacingAndGlyphs">パ</tspan><tspan x="70.94" y="693.80" font-size="18.0" textLength="16.13" lengthAdjust="spacingAndGlyphs">フ</tspan><tspan x="86.85" y="693.80" font-size="18.0" textLength="14.30" lengthAdjust="spacingAndGlyphs">ォ</tspan><tspan x="100.02" y="693.80" font-size="18.0" textLength="18.97" lengthAdjust="spacingAndGlyphs">ー</tspan><tspan x="119.17" y="693.80" font-size="18.0" textLength="18.60" lengthAdjust="spacingAndGlyphs">マ</tspan><tspan x="137.12" y="693.80" font-size="18.0" textLength="15.26" lengthAdjust="spacingAndGlyphs">ン</tspan><tspan x="151.99" y="693.80" font-size="18.0" textLength="18.01" lengthAdjust="spacingAndGlyphs">ス</tspan><tspan x="169.64" y="693.80" font-size="18.0" textLength="16.13" lengthAdjust="spacingAndGlyphs">は</tspan><tspan x="186.77" y="693.80" font-size="18" textLength="76.95" lengthAdjust="spacingAndGlyphs">株価指数</tspan><tspan x="263.70" y="693.80" font-size="18.0" textLength="15.60" lengthAdjust="spacingAndGlyphs">の</tspan><tspan x="279.73" y="693.80" font-size="18.0" textLength="13.10" lengthAdjust="spacingAndGlyphs">も</tspan><tspan x="293.70" y="693.80" font-size="18.0" textLength="15.60" lengthAdjust="spacingAndGlyphs">の</tspan><tspan x="310.28" y="693.80" font-size="18.0" textLength="15.44" lengthAdjust="spacingAndGlyphs">で</tspan><tspan x="327.05" y="693.80" font-size="18.0" textLength="16.29" lengthAdjust="spacingAndGlyphs">あ</tspan><tspan x="343.29" y="693.80" font-size="18.0" textLength="12.03" lengthAdjust="spacingAndGlyphs">り</tspan><tspan x="354.11" y="693.80" font-size="18" textLength="17.89" lengthAdjust="spacingAndGlyphs">、</tspan><tspan x="368.28" y="693.80" font-size="18" textLength="39.44" lengthAdjust="spacingAndGlyphs">特定</tspan><tspan x="409.28" y="693.80" font-size="18.0" textLength="14.98" lengthAdjust="spacingAndGlyphs">の</tspan><tspan x="423.94" y="693.80" font-size="18.0" textLength="16.13" lengthAdjust="spacingAndGlyphs">フ</tspan><tspan x="438.03" y="693.80" font-size="18.0" textLength="10.79" lengthAdjust="spacingAndGlyphs">ァ</tspan><tspan x="449.11" y="693.80" font-size="18.0" textLength="13.68" lengthAdjust="spacingAndGlyphs">ン</tspan><tspan x="461.18" y="693.80" font-size="18.0" textLength="16.05" lengthAdjust="spacingAndGlyphs">ド</tspan><tspan x="477.28" y="693.80" font-size="18.0" textLength="15.44" lengthAdjust="spacingAndGlyphs">の</tspan><tspan x="493.28" y="693.80" font-size="18" textLength="80.44" lengthAdjust="spacingAndGlyphs">運用実績</tspan><tspan x="575.28" y="693.80" font-size="18.0" textLength="14.98" lengthAdjust="spacingAndGlyphs">で</tspan><tspan x="591.28" y="693.80" font-size="18.0" textLength="14.44" lengthAdjust="spacingAndGlyphs">は</tspan><tspan x="606.16" y="693.80" font-size="18.0" textLength="17.61" lengthAdjust="spacingAndGlyphs">あ</tspan><tspan x="623.71" y="693.80" font-size="18.0" textLength="12.59" lengthAdjust="spacingAndGlyphs">り</tspan><tspan x="635.71" y="693.80" font-size="18.0" textLength="18.49" lengthAdjust="spacingAndGlyphs">ま</tspan><tspan x="653.28" y="693.80" font-size="18.0" textLength="15.44" lengthAdjust="spacingAndGlyphs">せ</tspan><tspan x="669.28" y="693.80" font-size="18.0" textLength="16.44" lengthAdjust="spacingAndGlyphs">ん</tspan><tspan x="688.37" y="693.80" font-size="18" textLength="15.12" lengthAdjust="spacingAndGlyphs">。</tspan><tspan x="699.97" y="693.80" font-size="18.0" textLength="15.58" lengthAdjust="spacingAndGlyphs">よ</tspan><tspan x="714.85" y="693.80" font-size="18.0" textLength="14.30" lengthAdjust="spacingAndGlyphs">っ</tspan><tspan x="729.22" y="693.80" font-size="18.0" textLength="15.64" lengthAdjust="spacingAndGlyphs">て</tspan><tspan x="746.11" y="693.80" font-size="18" textLength="17.89" lengthAdjust="spacingAndGlyphs">、</tspan><tspan x="759.97" y="693.80" font-size="18.0" textLength="17.07" lengthAdjust="spacingAndGlyphs">フ</tspan><tspan x="776.02" y="693.80" font-size="18.0" textLength="11.44" lengthAdjust="spacingAndGlyphs">ァ</tspan><tspan x="787.11" y="693.80" font-size="18.0" textLength="13.68" lengthAdjust="spacingAndGlyphs">ン</tspan><tspan x="799.18" y="693.80" font-size="18.0" textLength="16.05" lengthAdjust="spacingAndGlyphs">ド</tspan><tspan x="814.28" y="693.80" font-size="18.0" textLength="15.44" lengthAdjust="spacingAndGlyphs">で</tspan><tspan x="831.28" y="693.80" font-size="18.0" textLength="16.44" lengthAdjust="spacingAndGlyphs">か</tspan><tspan x="849.28" y="693.80" font-size="18.0" textLength="16.44" lengthAdjust="spacingAndGlyphs">か</tspan><tspan x="865.99" y="693.80" font-size="18.0" textLength="18.01" lengthAdjust="spacingAndGlyphs">る</tspan><tspan x="885.28" y="693.80" font-size="18" textLength="98.44" lengthAdjust="spacingAndGlyphs">信託報酬等</tspan><tspan x="985.28" y="693.80" font-size="18.0" textLength="14.44" lengthAdjust="spacingAndGlyphs">は</tspan><tspan x="1000.28" y="693.80" font-size="18" textLength="39.95" lengthAdjust="spacingAndGlyphs">考慮</tspan><tspan x="1039.48" y="693.80" font-size="18.0" textLength="15.59" lengthAdjust="spacingAndGlyphs">さ</tspan><tspan x="1053.75" y="693.80" font-size="18.0" textLength="11.99" lengthAdjust="spacingAndGlyphs">れ</tspan><tspan x="1067.22" y="693.80" font-size="18.0" textLength="15.64" lengthAdjust="spacingAndGlyphs">て</tspan><tspan x="1081.15" y="693.80" font-size="18.0" textLength="16.63" lengthAdjust="spacingAndGlyphs">い</tspan><tspan x="1097.13" y="693.80" font-size="18.0" textLength="19.07" lengthAdjust="spacingAndGlyphs">ま</tspan><tspan x="1115.74" y="693.80" font-size="18.0" textLength="15.98" lengthAdjust="spacingAndGlyphs">せ</tspan><tspan x="1132.75" y="693.80" font-size="18.0" textLength="16.98" lengthAdjust="spacingAndGlyphs">ん</tspan><tspan x="1151.57" y="693.80" font-size="18" textLength="17.86" lengthAdjust="spacingAndGlyphs">。</tspan></text>
<text font-family="Liberation Sans, Noto Sans CJK JP, sans-serif" fill="#383838"><tspan x="16.72" y="718.60" font-size="17.5" textLength="37.00" lengthAdjust="spacingAndGlyphs">出所</tspan><tspan x="51.90" y="718.60" font-size="17.5" textLength="13.20" lengthAdjust="spacingAndGlyphs">：</tspan><tspan x="60.31" y="718.60" font-size="17.5" textLength="15.47" lengthAdjust="spacingAndGlyphs">リ</tspan><tspan x="72.96" y="718.60" font-size="17.5" textLength="16.08" lengthAdjust="spacingAndGlyphs">フ</tspan><tspan x="89.20" y="718.60" font-size="17.5" textLength="10.74" lengthAdjust="spacingAndGlyphs">ィ</tspan><tspan x="99.03" y="718.60" font-size="17.5" textLength="17.95" lengthAdjust="spacingAndGlyphs">ニ</tspan><tspan x="117.05" y="718.60" font-size="17.5" textLength="19.35" lengthAdjust="spacingAndGlyphs">テ</tspan><tspan x="136.44" y="718.60" font-size="17.5" textLength="11.32" lengthAdjust="spacingAndGlyphs">ィ</tspan><tspan x="146.19" y="718.60" font-size="17.5" textLength="18.56" lengthAdjust="spacingAndGlyphs">ブ</tspan><tspan font-size="4"> </tspan><tspan x="170.26" y="718.60" font-size="18.5" textLength="18.48" lengthAdjust="spacingAndGlyphs" font-family="Liberation Sans, sans-serif">an</tspan><tspan font-size="4"> </tspan><tspan x="194.75" y="718.60" font-size="18.5" textLength="41.99" lengthAdjust="spacingAndGlyphs" font-family="Liberation Sans, sans-serif">LSEG</tspan><tspan font-size="4"> </tspan><tspan x="244.26" y="718.60" font-size="18.5" textLength="66.48" lengthAdjust="spacingAndGlyphs" font-family="Liberation Sans, sans-serif">business</tspan><tspan font-size="4"> </tspan><tspan x="316.10" y="718.60" font-size="17.5" textLength="18.61" lengthAdjust="spacingAndGlyphs">の</tspan><tspan x="334.88" y="718.60" font-size="17.5" textLength="16.21" lengthAdjust="spacingAndGlyphs">デ</tspan><tspan x="352.32" y="718.60" font-size="17.5" textLength="16.00" lengthAdjust="spacingAndGlyphs">ー</tspan><tspan x="368.35" y="718.60" font-size="17.5" textLength="16.12" lengthAdjust="spacingAndGlyphs">タ</tspan><tspan x="383.37" y="718.60" font-size="17.5" textLength="18.70" lengthAdjust="spacingAndGlyphs">を</tspan><tspan x="403.18" y="718.60" font-size="17.5" textLength="18.97" lengthAdjust="spacingAndGlyphs">基</tspan><tspan x="422.33" y="718.60" font-size="17.5" textLength="16.00" lengthAdjust="spacingAndGlyphs">に</tspan><tspan x="437.24" y="718.60" font-size="17.5" textLength="14.82" lengthAdjust="spacingAndGlyphs">ピ</tspan><tspan x="453.31" y="718.60" font-size="17.5" textLength="13.40" lengthAdjust="spacingAndGlyphs">ク</tspan><tspan x="467.82" y="718.60" font-size="17.5" textLength="16.07" lengthAdjust="spacingAndGlyphs">テ</tspan><tspan x="483.03" y="718.60" font-size="17.5" textLength="12.16" lengthAdjust="spacingAndGlyphs">・</tspan><tspan x="493.55" y="718.60" font-size="17.5" textLength="14.88" lengthAdjust="spacingAndGlyphs">ジ</tspan><tspan x="509.41" y="718.60" font-size="17.5" textLength="12.24" lengthAdjust="spacingAndGlyphs">ャ</tspan><tspan x="522.90" y="718.60" font-size="17.5" textLength="15.00" lengthAdjust="spacingAndGlyphs">パ</tspan><tspan x="537.90" y="718.60" font-size="17.5" textLength="16.12" lengthAdjust="spacingAndGlyphs">ン</tspan><tspan x="553.77" y="718.60" font-size="17.5" textLength="37.46" lengthAdjust="spacingAndGlyphs">作成</tspan></text>
</svg>
</body></html>
